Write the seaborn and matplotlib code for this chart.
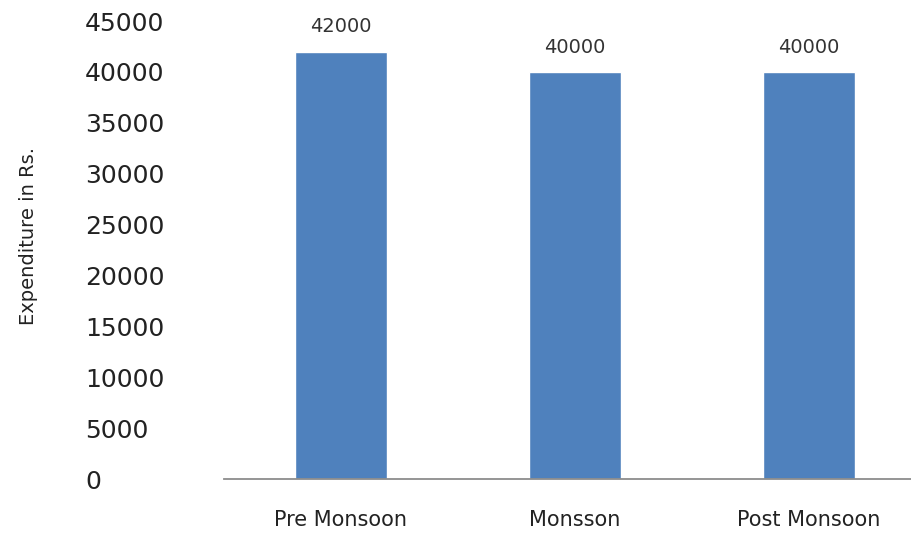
import matplotlib
matplotlib.use("Agg")
import matplotlib.pyplot as plt
import seaborn as sns
import pandas as pd

seasons = ["Pre Monsoon", "Monsson", "Post Monsoon"]
expenditure = [42000, 40000, 40000]
yticks = [0, 5000, 10000, 15000, 20000, 25000, 30000, 35000, 40000, 45000]

df = pd.DataFrame({"season": seasons, "expenditure": expenditure})

sns.set_style("white")
plt.rcParams["font.family"] = ["DejaVu Sans"]

fig = plt.figure(figsize=(9.12, 5.36), dpi=100)
ax = fig.add_axes([0.2456, 0.1063, 0.7544, 0.8545])

sns.barplot(data=df, x="season", y="expenditure", color="#4F81BD",
            saturation=1, width=0.39, ax=ax)

for i, v in enumerate(expenditure):
    ax.annotate(f"{v}", (i, v), xytext=(0, 11), textcoords="offset points",
                ha="center", va="bottom", fontsize=14, color="#333333")

ax.set_ylim(0, 45000)
ax.set_xlim(-0.5, 2.44)
ax.set_yticks(yticks)
ax.set_yticklabels([str(t) for t in yticks], ha="left", fontsize=18, color="#222222")
ax.tick_params(axis="y", length=0, pad=100)
ax.tick_params(axis="x", length=0, pad=22, labelsize=15, labelcolor="#222222")

for s in ["top", "right", "left"]:
    ax.spines[s].set_visible(False)
ax.spines["bottom"].set_color("#8c8c8c")
ax.spines["bottom"].set_linewidth(1.3)

ax.set_xlabel("")
ax.set_ylabel("Expenditure in Rs.", fontsize=14, color="#222222")
ax.yaxis.set_label_coords(-0.27, 0.53)

fig.savefig("out.png", dpi=100)
